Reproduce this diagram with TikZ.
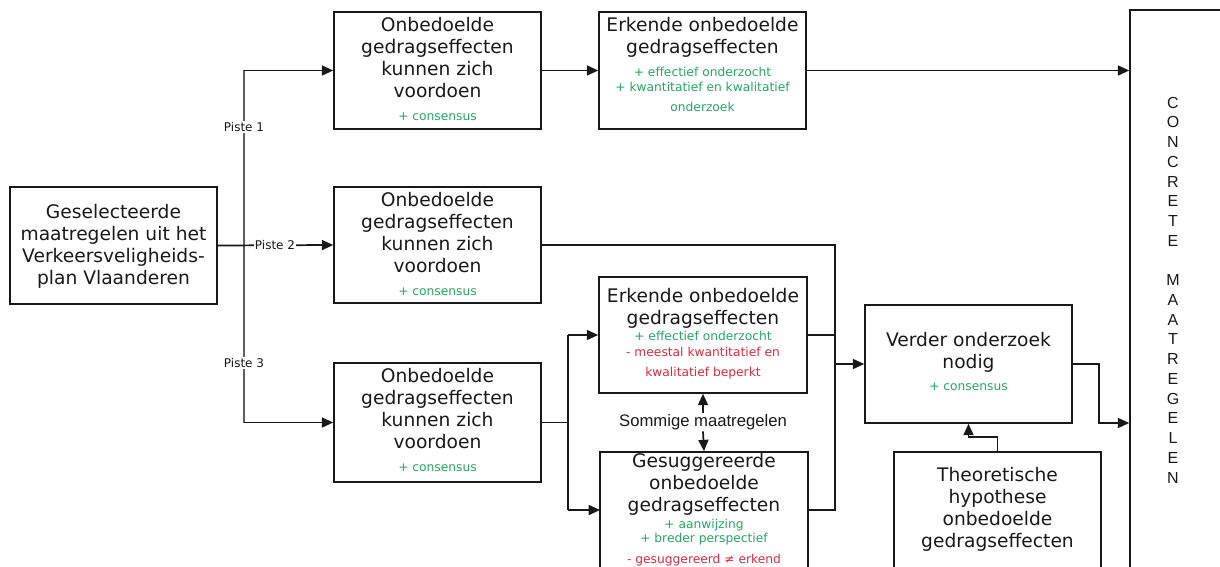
\documentclass[tikz,border=0pt]{standalone}
\usepackage{fontspec}
\setmainfont{DejaVu Sans}
\newfontfamily\arialf{Liberation Sans}
\usetikzlibrary{arrows.meta,fit}
\definecolor{okgreen}{RGB}{40,165,100}
\definecolor{badred}{RGB}{215,45,65}
\definecolor{ink}{RGB}{25,25,25}
\definecolor{trunkgray}{RGB}{95,95,95}
\begin{document}
\begin{tikzpicture}[x=0.75pt,y=-0.75pt,
 box/.style={draw=ink, line width=1.2pt, inner sep=0pt, fill=white},
 maintxt/.style={align=center, font=\fontsize{14}{16.5}\selectfont, inner sep=0pt, text=ink, anchor=north},
 smalltxt/.style={align=center, font=\fontsize{9.2}{11}\selectfont, inner sep=0pt, anchor=base},
 goodtxt/.style={smalltxt, text=okgreen},
 badtxt/.style={smalltxt, text=badred},
 conn/.style={line width=1.3pt, draw=ink},
 arr/.style={conn, -{Triangle[length=8.5pt,width=7.5pt]}},
 piste/.style={font=\fontsize{9}{11}\selectfont, fill=white, inner sep=1pt, text=ink}
]
\useasboundingbox (0,0) rectangle (1220,567);
\clip (0,0) rectangle (1220,567);
\fill[white] (0,0) rectangle (1220,567);

% boxes
\node[box, fit={(10,187) (217,304)}] (L) {};
\node[box, fit={(334,12) (541,129)}] (b1) {};
\node[box, fit={(599,12) (806,129)}] (e1) {};
\node[box, fit={(334,187) (541,303)}] (b2) {};
\node[box, fit={(599,277) (807,393)}] (e2) {};
\node[box, fit={(334,363) (541,482)}] (b3) {};
\node[box, fit={(600,452) (808,590)}] (g) {};
\node[box, fit={(865,305) (1072,423)}] (V) {};
\node[box, fit={(894,452) (1101,590)}] (T) {};
\node[box, fit={(1130,10) (1240,590)}] (C) {};

% texts
\node[maintxt] (Lt) at (113.5,204.5) {Geselecteerde\\maatregelen uit het\\Verkeersveligheids-\\plan Vlaanderen};

\node[maintxt] (b1t) at (437.5,17.5) {Onbedoelde\\gedragseffecten\\kunnen zich\\voordoen};
\node[goodtxt] (b1p) at (437.5,120) {+ consensus};

\node[maintxt] (e1t) at (702.5,17.5) {Erkende onbedoelde\\gedragseffecten};
\node[goodtxt] (e1p1) at (702.5,76) {+ effectief onderzocht};
\node[goodtxt] (e1p2) at (702.5,91) {+ kwantitatief en kwalitatief};
\node[goodtxt] (e1p3) at (702.5,111) {onderzoek};

\node[maintxt] (b2t) at (437.5,192.5) {Onbedoelde\\gedragseffecten\\kunnen zich\\voordoen};
\node[goodtxt] (b2p) at (437.5,295) {+ consensus};

\node[maintxt] (e2t) at (703,288.5) {Erkende onbedoelde\\gedragseffecten};
\node[goodtxt] (e2p) at (703,340) {+ effectief onderzocht};
\node[badtxt] (e2n1) at (703,356) {- meestal kwantitatief en};
\node[badtxt] (e2n2) at (703,376) {kwalitatief beperkt};

\node[maintxt] (b3t) at (437.5,368.5) {Onbedoelde\\gedragseffecten\\kunnen zich\\voordoen};
\node[goodtxt] (b3p) at (437.5,471) {+ consensus};

\node[maintxt] (gt) at (704,453.5) {Gesuggereerde\\onbedoelde\\gedragseffecten};
\node[goodtxt] (gp1) at (704,528) {+ aanwijzing};
\node[goodtxt] (gp2) at (704,542) {+ breder perspectief};
\node[badtxt] (gn) at (704,563) {- gesuggereerd ≠ erkend};

\node[maintxt] (Vt) at (968.5,332.5) {Verder onderzoek\\nodig};
\node[goodtxt] (Vp) at (968.5,390) {+ consensus};

\node[maintxt] (Tt) at (997.5,467.5) {Theoretische\\hypothese\\onbedoelde\\gedragseffecten};

\node[align=center, inner sep=0pt, text=ink, font=\arialf\fontsize{12}{14.8}\selectfont] (Ct) at (1173,290)
 {C\\O\\N\\C\\R\\E\\T\\E\\[14.8pt]M\\A\\A\\T\\R\\E\\G\\E\\L\\E\\N};

\node[inner sep=1pt, text=ink, font=\arialf\fontsize{12.5}{15}\selectfont] (S) at (703,422) {Sommige maatregelen};

% connector points
\coordinate (tr) at (244,245);
\coordinate (j) at (835,364);
\coordinate (sp) at (568,422.5);
\coordinate (gin) at (600,510);
\coordinate (gout) at (808,510);
\coordinate (vk) at (1099,423);
\coordinate (tk) at (998,437);

% connectors
\draw[conn, draw=trunkgray] (tr |- b1.west) -- (tr |- b3.west);
\draw[arr] (tr |- b1.west) -- (b1.west);
\draw[arr] (L.east) -- (b2.west);
\draw[arr] (tr |- b3.west) -- (b3.west);
\node[piste] (p1) at (244,127) {Piste 1};
\node[piste] (p2) at (275,245) {Piste 2};
\node[piste] (p3) at (244,363) {Piste 3};

\draw[arr] (b1.east) -- (e1.west);
\draw[arr] (e1.east) -- (e1.east -| C.west);

\draw[arr] (b2.east) -| (j) -- (V.west);
\draw[conn] (e2.east) -- (e2.east -| j);
\draw[conn] (gout) -| (j);

\draw[conn] (b3.east) -- (sp);
\draw[conn] (sp |- e2.west) -- (sp |- gin);
\draw[arr] (sp |- e2.west) -- (e2.west);
\draw[arr] (sp |- gin) -- (gin);

\draw[arr] (S.north) -- (e2.south);
\draw[arr] (S.south) -- (g.north);

\draw[arr] (V.east) -| (vk) -- (vk -| C.west);
\draw[arr] (T.north) |- (V.south |- tk) -- (V.south);
\end{tikzpicture}
\end{document}
